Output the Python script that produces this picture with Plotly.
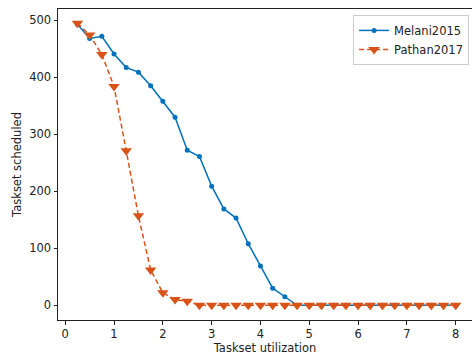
import plotly.graph_objects as go

# Taskset utilization levels (0.25 .. 8.0 step 0.25)
utilization = [0.25, 0.5, 0.75, 1.0, 1.25, 1.5, 1.75, 2.0, 2.25, 2.5, 2.75, 3.0,
               3.25, 3.5, 3.75, 4.0, 4.25, 4.5, 4.75, 5.0, 5.25, 5.5, 5.75, 6.0,
               6.25, 6.5, 6.75, 7.0, 7.25, 7.5, 7.75, 8.0]

melani2015 = [493, 468, 472, 441, 417, 409, 385, 358, 330, 272, 261, 209,
              169, 153, 108, 69, 30, 15, 0, 0, 0, 0, 0, 0,
              0, 0, 0, 0, 0, 0, 0, 0]

pathan2017 = [495, 474, 440, 384, 271, 157, 62, 22, 10, 7, 0, 0,
              0, 0, 0, 0, 0, 0, 0, 0, 0, 0, 0, 0,
              0, 0, 0, 0, 0, 0, 0, 0]

x_ticks = [0, 1, 2, 3, 4, 5, 6, 7, 8]
y_ticks = [0, 100, 200, 300, 400, 500]

BLUE = "#0072BD"
ORANGE = "#D95319"
FONT = "DejaVu Sans"
FS = 11.5

fig = go.Figure()
fig.add_trace(go.Scatter(
    x=utilization, y=melani2015, name="Melani2015", mode="lines+markers",
    line=dict(color=BLUE, width=1.5),
    marker=dict(symbol="circle", size=5, color=BLUE),
))
fig.add_trace(go.Scatter(
    x=utilization, y=pathan2017, name="Pathan2017", mode="lines+markers",
    line=dict(color=ORANGE, width=1.5, dash="5px,3px"),
    marker=dict(symbol="triangle-down", size=10, color=ORANGE),
))

axis_common = dict(
    showgrid=False, zeroline=False, showline=True, linecolor="#222", linewidth=1,
    ticks="outside", ticklen=3.5, tickwidth=1, tickcolor="#222",
    tickfont=dict(family=FONT, size=FS, color="#222"),
)

fig.update_layout(
    width=472, height=358,
    margin=dict(l=58, r=0, t=9, b=38),
    paper_bgcolor="white", plot_bgcolor="white",
    font=dict(family=FONT, size=FS, color="#222"),
    xaxis=dict(
        range=[-0.148, 8.334], tickvals=x_ticks, mirror=True,
        title=dict(text="Taskset utilization", standoff=2,
                   font=dict(family=FONT, size=FS, color="#222")),
        **axis_common,
    ),
    yaxis=dict(
        range=[-25.8, 519.8], tickvals=y_ticks,
        title=dict(text="Taskset scheduled", standoff=5,
                   font=dict(family=FONT, size=FS, color="#222")),
        **axis_common,
    ),
    legend=dict(
        x=0.993, y=0.981, xanchor="right", yanchor="top",
        bgcolor="white", bordercolor="#cccccc", borderwidth=1,
        font=dict(family=FONT, size=FS, color="#222"),
        tracegroupgap=0, itemwidth=30,
    ),
    showlegend=True,
)

fig.write_html("out.html")
